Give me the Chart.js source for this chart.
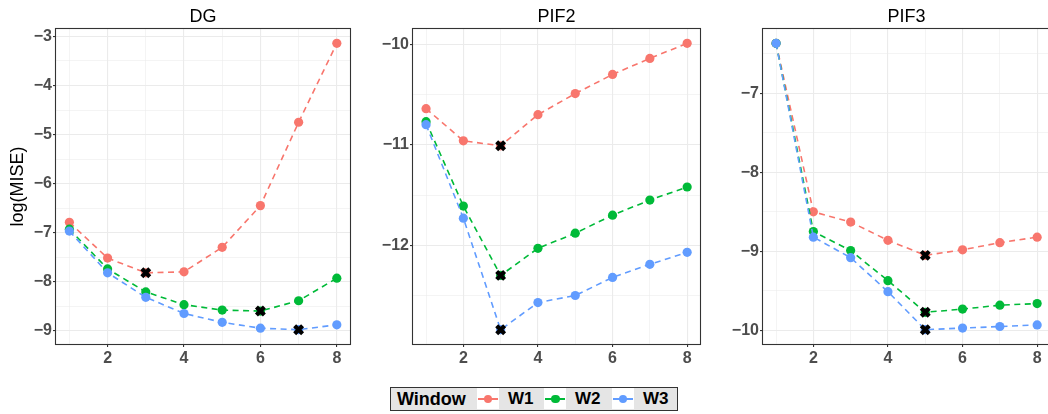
<!DOCTYPE html>
<html>
<head>
<meta charset="utf-8">
<script src="https://cdn.jsdelivr.net/npm/chart.js@4.4.0/dist/chart.umd.min.js"></script>
<style>
html,body{margin:0;padding:0;width:1048px;height:414px;overflow:hidden;background:#fff;font-family:"Liberation Sans",Arial,sans-serif;}
canvas.panel{position:absolute;top:0;}
#legend{position:absolute;left:390px;top:387px;width:286px;height:22px;background:#E5E5E5;border:1px solid #333;}
#legend .lt{position:absolute;top:0;height:22px;line-height:22px;font-weight:bold;color:#000;white-space:nowrap;}
#legend .key{position:absolute;top:0;width:22px;height:21px;background:#fff;}
#legend .key .ln{position:absolute;left:1px;right:1px;top:10px;height:1.6px;}
#legend .key .dt{position:absolute;left:7px;top:6.5px;width:8.5px;height:8.5px;border-radius:50%;}
</style>
</head>
<body>
<canvas id="c1" class="panel" width="360" height="372" style="left:0px;width:360px;height:372px"></canvas>
<canvas id="c2" class="panel" width="350" height="372" style="left:360px;width:350px;height:372px"></canvas>
<canvas id="c3" class="panel" width="350" height="372" style="left:710px;width:350px;height:372px"></canvas>
<div id="legend"></div>
<script>
// ---- data ----
const xValues = [1, 2, 3, 4, 5, 6, 7, 8];
const seriesNames = ['W1', 'W2', 'W3'];
const panelTitles = ['DG', 'PIF2', 'PIF3'];
const legendTitle = 'Window';
const yAxisTitle = 'log(MISE)';

const dgW1 = [-6.79, -7.52, -7.82, -7.80, -7.30, -6.45, -4.75, -3.14];
const dgW2 = [-6.93, -7.74, -8.21, -8.47, -8.58, -8.60, -8.39, -7.93];
const dgW3 = [-6.97, -7.82, -8.32, -8.65, -8.83, -8.95, -8.98, -8.88];

const pif2W1 = [-10.64, -10.96, -11.01, -10.70, -10.49, -10.30, -10.14, -9.99];
const pif2W2 = [-10.77, -11.61, -12.30, -12.03, -11.88, -11.70, -11.55, -11.42];
const pif2W3 = [-10.80, -11.73, -12.84, -12.57, -12.50, -12.32, -12.19, -12.07];

const pif3W1 = [-6.37, -8.50, -8.63, -8.86, -9.05, -8.98, -8.89, -8.82];
const pif3W2 = [-6.37, -8.75, -8.99, -9.37, -9.77, -9.73, -9.68, -9.66];
const pif3W3 = [-6.37, -8.82, -9.08, -9.51, -9.99, -9.97, -9.95, -9.93];

const xMajorTicks = [2, 4, 6, 8];
const xMinorTicks = [1, 3, 5, 7];
const dgYMajor = [-9, -8, -7, -6, -5, -4, -3];
const dgYMinor = [-8.5, -7.5, -6.5, -5.5, -4.5, -3.5];
const pif2YMajor = [-12, -11, -10];
const pif2YMinor = [-12.5, -11.5, -10.5];
const pif3YMajor = [-10, -9, -8, -7];
const pif3YMinor = [-9.5, -8.5, -7.5, -6.5];

// ---- styles ----
const seriesColors = ['#F8766D', '#00BA38', '#619CFF'];
const FONT = '"Liberation Sans", Arial, sans-serif';

function fmt(v) { return (v < 0 ? '\u2212' : '') + Math.abs(v); }

const borderPlugin = {
  id: 'panelBorder',
  afterDraw(chart) {
    const {ctx, chartArea: a} = chart;
    ctx.save();
    ctx.strokeStyle = '#333333';
    ctx.lineWidth = 1.1;
    ctx.strokeRect(Math.round(a.left) - 0.5, Math.round(a.top) - 0.5,
      Math.round(a.right) - Math.round(a.left) + 1, Math.round(a.bottom) - Math.round(a.top) + 1);
    ctx.restore();
  }
};

function expandRange(arrs, frac) {
  const all = [].concat(...arrs);
  const lo = Math.min(...all), hi = Math.max(...all);
  const pad = (hi - lo) * frac;
  return [lo - pad, hi + pad];
}

function makePanel(id, title, series, yMajor, yMinor, yWidth, padRight, showYTitle) {
  const [yMin, yMax] = expandRange(series, 0.05);
  const xPad = (Math.max(...xValues) - Math.min(...xValues)) * 0.05;
  const datasets = [];
  // minima markers
  const markers = series.map(s => {
    let k = 0;
    s.forEach((v, i) => { if (v < s[k]) k = i; });
    return {x: xValues[k], y: s[k]};
  });
  datasets.push({
    label: 'min', data: markers, showLine: false, order: 0,
    pointStyle: 'crossRot', pointRadius: 5.6, pointHoverRadius: 5.6,
    pointBorderWidth: 4.2, pointBorderColor: '#000', pointBackgroundColor: '#000'
  });
  series.forEach((s, i) => {
    datasets.push({
      label: seriesNames[i],
      data: s.map((v, j) => ({x: xValues[j], y: v})),
      order: 3 - i,
      borderColor: seriesColors[i], backgroundColor: seriesColors[i],
      borderWidth: 1.6, borderDash: [6, 4.5], tension: 0,
      pointRadius: 4.6, pointHoverRadius: 4.6, pointBorderWidth: 0,
      pointBackgroundColor: seriesColors[i]
    });
  });
  const tickFont = {family: FONT, size: 16, weight: 'bold'};
  const isMajorX = v => xMajorTicks.includes(v);
  const isMajorY = v => yMajor.includes(v);
  return new Chart(document.getElementById(id), {
    type: 'line',
    data: {datasets},
    plugins: [borderPlugin],
    options: {
      responsive: false, animation: false, devicePixelRatio: 1,
      layout: {padding: {left: 0, right: padRight, top: 0, bottom: 0}},
      plugins: {
        legend: {display: false}, tooltip: {enabled: false},
        title: {
          display: true, text: title, fullSize: false, color: '#000',
          font: {family: FONT, size: 18, weight: 'normal'},
          padding: {top: 6, bottom: 1.4}
        }
      },
      scales: {
        x: {
          type: 'linear', min: Math.min(...xValues) - xPad, max: Math.max(...xValues) + xPad,
          afterBuildTicks: s => { s.ticks = [...xMinorTicks, ...xMajorTicks].sort((a, b) => a - b).map(v => ({value: v})); },
          afterFit: s => { s.height = 28; },
          ticks: {
            autoSkip: false, maxRotation: 0, minRotation: 0, padding: 2,
            color: '#4D4D4D', font: tickFont,
            callback: v => isMajorX(v) ? String(v) : ''
          },
          grid: {
            color: '#EBEBEB', drawTicks: true, tickLength: 3,
            lineWidth: c => (c.tick && isMajorX(c.tick.value)) ? 1.1 : 0.55,
            tickWidth: 1.1,
            tickColor: c => (c.tick && isMajorX(c.tick.value)) ? '#333333' : 'rgba(0,0,0,0)'
          },
          border: {display: false}
        },
        y: {
          type: 'linear', min: yMin, max: yMax,
          afterBuildTicks: s => { s.ticks = [...yMinor, ...yMajor].sort((a, b) => a - b).map(v => ({value: v})); },
          afterFit: s => { s.width = yWidth; },
          ticks: {
            autoSkip: false, padding: 1, color: '#4D4D4D', font: tickFont,
            callback: v => isMajorY(v) ? fmt(v) : ''
          },
          grid: {
            color: '#EBEBEB', drawTicks: true, tickLength: 3,
            lineWidth: c => (c.tick && isMajorY(c.tick.value)) ? 1.1 : 0.55,
            tickWidth: 1.1,
            tickColor: c => (c.tick && isMajorY(c.tick.value)) ? '#333333' : 'rgba(0,0,0,0)'
          },
          border: {display: false},
          title: {
            display: showYTitle, text: yAxisTitle, color: '#000',
            font: {family: FONT, size: 18, weight: 'normal'},
            padding: {top: 7.5, bottom: 0}
          }
        }
      }
    }
  });
}

makePanel('c1', panelTitles[0], [dgW1, dgW2, dgW3], dgYMajor, dgYMinor, 56, 3, true);
makePanel('c2', panelTitles[1], [pif2W1, pif2W2, pif2W3], pif2YMajor, pif2YMinor, 53, 3, false);
makePanel('c3', panelTitles[2], [pif3W1, pif3W2, pif3W3], pif3YMajor, pif3YMinor, 53, 3, false);

// ---- legend (HTML) ----
const legend = document.getElementById('legend');
const keyLefts = [85.7, 153, 220.7];
const textLefts = [117, 184, 252];
const t = document.createElement('div');
t.className = 'lt'; t.style.left = '6px'; t.style.fontSize = '18px'; t.textContent = legendTitle;
legend.appendChild(t);
seriesNames.forEach((name, i) => {
  const k = document.createElement('div');
  k.className = 'key'; k.style.left = keyLefts[i] + 'px';
  const ln = document.createElement('div'); ln.className = 'ln'; ln.style.background = seriesColors[i];
  const dt = document.createElement('div'); dt.className = 'dt'; dt.style.background = seriesColors[i];
  k.appendChild(ln); k.appendChild(dt);
  legend.appendChild(k);
  const lt = document.createElement('div');
  lt.className = 'lt'; lt.style.left = textLefts[i] + 'px'; lt.style.fontSize = '17px'; lt.textContent = name;
  legend.appendChild(lt);
});
</script>
</body>
</html>
